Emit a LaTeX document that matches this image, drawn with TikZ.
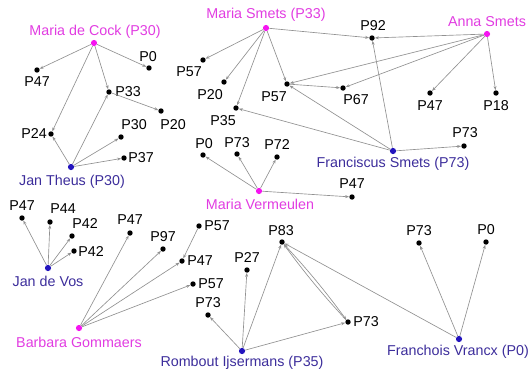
\documentclass[tikz,border=0pt]{standalone}
\usepackage{fontspec}
\setmainfont{Liberation Sans}
\usetikzlibrary{arrows.meta}
\definecolor{womancol}{RGB}{225,60,225}
\definecolor{womandot}{RGB}{245,20,240}
\definecolor{mancol}{RGB}{60,45,155}
\definecolor{mandot}{RGB}{35,20,190}
\definecolor{linkcol}{RGB}{145,145,145}
% dot with its label
\newcommand{\leaf}[4]{\node[leaf] (#1) at (#2) {}; \node (#1-t) at (#3) {#4};}

\begin{document}
\begin{tikzpicture}[x=1pt, y=-1pt,
	every node/.style={font=\fontsize{14.3}{16}\selectfont, inner sep=0pt},
	leaf/.style={circle, fill=black, minimum size=5.4pt},
	woman/.style={circle, fill=womandot, minimum size=6.2pt},
	man/.style={circle, fill=mandot, minimum size=6.2pt},
	wname/.style={text=womancol},
	mname/.style={text=mancol},
	link/.style={draw=linkcol, line width=0.65pt, -{Stealth[length=4pt,width=3pt]}}]
	\useasboundingbox (0,0) rectangle (532,373);
	%Maria de Cock and Jan Theus
	\node[woman] (mdc) at (94,43) {};
	\node[wname] (mdc-t) at (95,32) {Maria de Cock (P30)};
	\node[man] (jt) at (71,167) {};
	\node[mname] (jt-t) at (72,182) {Jan Theus (P30)};
	\leaf{a0}{149,68}{148,57}{P0}
	\leaf{a47}{37,70}{37,82}{P47}
	\leaf{a33}{109,92}{128,92}{P33}
	\leaf{a20}{161,111}{173,125}{P20}
	\leaf{a24}{51,134}{34,134}{P24}
	\leaf{a30}{121,137}{134,125}{P30}
	\leaf{a37}{124,158}{141,158}{P37}
	\draw[link] (mdc) -- (a47);
	\draw[link] (mdc) -- (a0);
	\draw[link] (mdc) -- (a33);
	\draw[link] (mdc) -- (a24);
	\draw[link] (a33) -- (a20);
	\foreach \t in {a24,a33,a30,a37}
		\draw[link] (jt) -- (\t);
	%Maria Smets, Anna Smets and Franciscus Smets
	\node[woman] (ms) at (266,28) {};
	\node[wname] (ms-t) at (266,15) {Maria Smets (P33)};
	\node[woman] (as) at (487,34) {};
	\node[wname] (as-t) at (487,22) {Anna Smets};
	\node[man] (fs) at (393,151) {};
	\node[mname] (fs-t) at (393,164) {Franciscus Smets (P73)};
	\leaf{b57a}{203,60}{189,72}{P57}
	\leaf{b20}{224,82}{210,95}{P20}
	\leaf{b57}{287,84}{274,97}{P57}
	\leaf{b67}{343,88}{356,100}{P67}
	\leaf{b35}{236,108}{223,121}{P35}
	\leaf{b92}{372,38}{373,26}{P92}
	\leaf{b47}{430,93}{430,106}{P47}
	\leaf{b18}{496,93}{496,106}{P18}
	\leaf{b73}{464,146}{465,133}{P73}
	\foreach \t in {b57a,b20,b35,b57,b92}
		\draw[link] (ms) -- (\t);
	\foreach \t in {b92,b57,b67,b47,b18}
		\draw[link] (as) -- (\t);
	\draw[link] (b57) -- (b67);
	\foreach \t in {b57,b35,b92,b73}
		\draw[link] (fs) -- (\t);
	%Maria Vermeulen
	\node[woman] (mv) at (259,191) {};
	\node[wname] (mv-t) at (260,204) {Maria Vermeulen};
	\leaf{c0}{203,155}{204,144}{P0}
	\leaf{c73}{237,154}{237,143}{P73}
	\leaf{c72}{277,157}{277,145}{P72}
	\leaf{c47}{352,197}{352,184}{P47}
	\foreach \t in {c0,c73,c72,c47}
		\draw[link] (mv) -- (\t);
	%Jan de Vos
	\node[man] (jv) at (48,268) {};
	\node[mname] (jv-t) at (48,281) {Jan de Vos};
	\leaf{d47}{22,218}{22,206}{P47}
	\leaf{d44}{50,222}{63,209}{P44}
	\leaf{d42a}{72,236}{85,223}{P42}
	\leaf{d42b}{74,251}{91,251}{P42}
	\foreach \t in {d47,d44,d42a,d42b}
		\draw[link] (jv) -- (\t);
	%Barbara Gommaers
	\node[woman] (bg) at (79,328) {};
	\node[wname] (bg-t) at (79,342) {Barbara Gommaers};
	\leaf{e47}{130,233}{130,220}{P47}
	\leaf{e97}{163,249}{163,237}{P97}
	\leaf{e57a}{199,226}{217,226}{P57}
	\leaf{e47b}{182,261}{200,261}{P47}
	\leaf{e57b}{193,284}{211,284}{P57}
	\foreach \t in {e47,e97,e47b,e57b}
		\draw[link] (bg) -- (\t);
	\draw[link] (e57a) -- (e47b);
	%Rombout Ijsermans and Franchois Vrancx
	\node[man] (ri) at (242,351) {};
	\node[mname] (ri-t) at (242,363) {Rombout Ijsermans (P35)};
	\node[man] (fv) at (459,339) {};
	\node[mname] (fv-t) at (458,352) {Franchois Vrancx (P0)};
	\leaf{f27}{247,270}{247,257}{P27}
	\leaf{f73a}{208,315}{208,303}{P73}
	\leaf{f83}{282,242}{281,231}{P83}
	\leaf{f73b}{348,322}{366,322}{P73}
	\leaf{g73}{419,243}{419,231}{P73}
	\leaf{g0}{486,242}{486,230}{P0}
	\foreach \t in {f73a,f27,f83,f73b}
		\draw[link] (ri) -- (\t);
	\draw[link] (f83) to[bend left=3] (f73b);
	\draw[link] (f73b) to[bend left=3] (f83);
	\foreach \t in {g73,g0,f83}
		\draw[link] (fv) -- (\t);
\end{tikzpicture}
\end{document}
